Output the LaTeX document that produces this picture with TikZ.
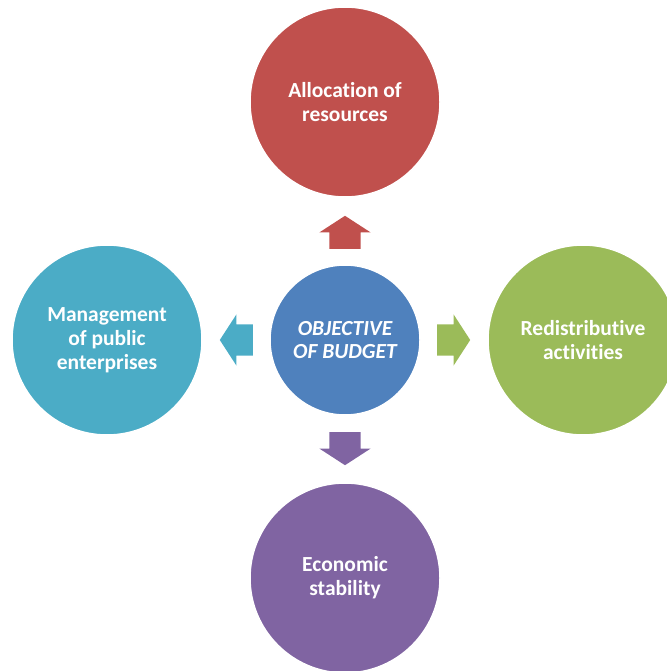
\documentclass[tikz,border=0pt]{standalone}
\usepackage{fontspec}
\setmainfont{Carlito}[Ligatures=NoCommon]
\usetikzlibrary{positioning,shapes.arrows}

\definecolor{redc}{HTML}{C0504D}
\definecolor{bluec}{HTML}{4F81BD}
\definecolor{greenc}{HTML}{9BBB59}
\definecolor{purplec}{HTML}{8064A2}
\definecolor{tealc}{HTML}{4BACC6}

\begin{document}
\begin{tikzpicture}[x=1pt,y=-1pt,
  goal node/.style={circle,draw=white,line width=1.5pt,minimum size=190pt,inner sep=0pt,
    text=white,align=center,font=\fontsize{21.5}{24}\selectfont\bfseries},
  centre node/.style={goal node,minimum size=150pt,fill=bluec,
    font=\fontsize{21.5}{23.5}\selectfont\bfseries\itshape},
  block arrow/.style={single arrow,draw=none,minimum height=33pt,
    single arrow head extend=10pt,single arrow tip angle=114,anchor=tail},
  h arrow/.style={block arrow,inner xsep=0pt,inner ysep=15.5pt},
  v arrow/.style={block arrow,inner xsep=15.5pt,inner ysep=0pt}]

  \useasboundingbox (0,0) rectangle (666,671);

  \node[centre node] (budget) at (345,340) {OBJECTIVE\\OF BUDGET};
  \node[goal node,fill=redc] (alloc) at (345,102) {Allocation of\\resources};
  \node[goal node,fill=tealc] (manage) at (107,340) {Management\\of public\\enterprises};
  \node[goal node,fill=greenc] (redist) at (583,340) {Redistributive\\activities};
  \node[goal node,fill=purplec] (stable) at (345,578) {Economic\\stability};

  \node[v arrow,fill=redc,shape border rotate=90] (toAlloc) at (345,249) {};
  \node[h arrow,fill=tealc,shape border rotate=180] (toManage) at (253,340) {};
  \node[h arrow,fill=greenc,shape border rotate=0] (toRedist) at (437,340) {};
  \node[v arrow,fill=purplec,shape border rotate=270] (toStable) at (345,432) {};

\end{tikzpicture}
\end{document}
